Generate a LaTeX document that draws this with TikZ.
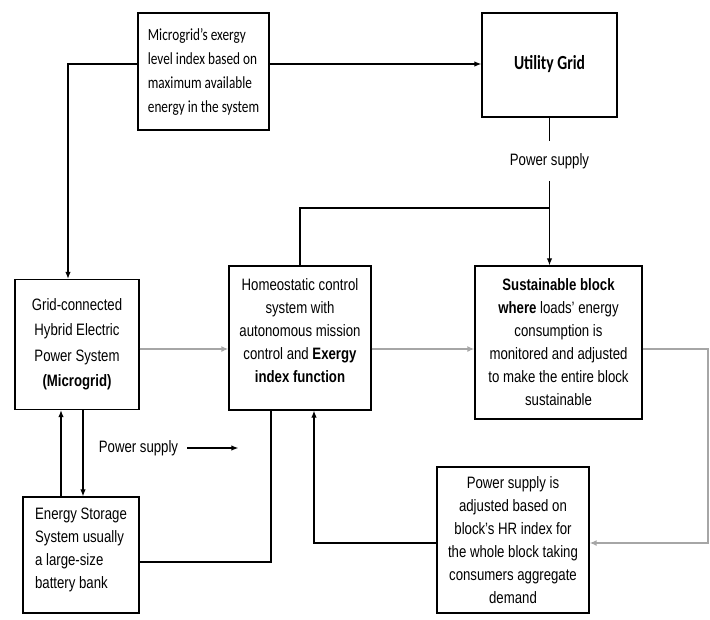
\documentclass[tikz,border=0pt]{standalone}
\usepackage{fontspec}
\setmainfont{Liberation Sans}[FakeStretch=0.8]
\newfontfamily\calibfont{Carlito}[FakeStretch=0.78]
\usetikzlibrary{arrows.meta,positioning}
\tikzset{
  box/.style={draw, line width=1.3pt, inner sep=0pt, align=center, font=\fontsize{16.5}{23}\selectfont},
  flow/.style={line width=1.2pt, -{Latex[length=7pt,width=5.5pt]}},
  wire/.style={line width=1.2pt},
  heavy flow/.style={line width=1.8pt, gray!70, -{Latex[length=7pt,width=6pt]}},
  tag/.style={inner sep=0pt, font=\fontsize{16.5}{18}\selectfont},
}

\begin{document}
\begin{tikzpicture}[x=1pt, y=-1pt]
  \useasboundingbox (0,0) rectangle (710,619);

  % Top row: exergy index and utility grid
  \node[box, minimum width=131pt, minimum height=117pt, align=left,
        font=\calibfont\fontsize{17}{24}\selectfont] (exergy) at (203.5,71.5)
        {Microgrid’s exergy\\level index based on\\maximum available\\energy in the system};
  \node[box, minimum width=135pt, minimum height=104pt,
        font=\calibfont\bfseries\fontsize{20}{22}\selectfont] (util) at (549.5,65) {\raisebox{6pt}{Utility Grid}};
  \node[tag, inner ysep=12pt] (supply) at (549.5,161) {Power supply};

  % Middle row
  \node[box, minimum width=124pt, minimum height=130pt, font=\fontsize{16.5}{25.5}\selectfont] (grid) at (77,344.5)
        {Grid-connected\\Hybrid Electric\\Power System\\\textbf{(Microgrid)}};
  \node[box, minimum width=142pt, minimum height=144pt] (homeo) at (300,338)
        {Homeostatic control\\system with\\autonomous mission\\control and \textbf{Exergy}\\\textbf{index function}\\[-9pt]\mbox{}};
  \node[box, minimum width=167pt, minimum height=153pt] (sust) at (558.5,342.5)
        {\textbf{Sustainable block}\\\textbf{where} loads\symbol{"27} energy\\consumption is\\monitored and adjusted\\to make the entire block\\sustainable};

  % Bottom row
  \node[box, minimum width=116pt, minimum height=116pt, align=left] (storage) at (81,555)
        {Energy Storage\\System usually\\a large-size\\battery bank\\[-9pt]\mbox{}};
  \node[box, minimum width=152pt, minimum height=146pt] (adjust) at (513,540)
        {Power supply is\\adjusted based on\\block’s HR index for\\the whole block taking\\consumers aggregate\\demand};
  \node[tag] (lowsupply) at (138.5,448) {Power supply};

  \coordinate (split) at (549.5,208);
  \coordinate (midrow) at (0,349);
  \coordinate (lowrow) at (0,543);
  \coordinate (rim) at (708,0);

  % Connectors
  \draw[flow] ([yshift=7.5pt]exergy.east) -- ([yshift=7.5pt]exergy.east -| util.west);
  \draw[flow] ([yshift=7.5pt]exergy.west) -| ([xshift=-9pt]grid.north);
  \draw[wire] (util.south) -- (supply.north);
  \draw[flow] (supply.south) -- (supply.south |- sust.north);
  \draw[wire] (split) -| (homeo.north);
  \draw[heavy flow] (grid.east |- midrow) -- (homeo.west |- midrow);
  \draw[heavy flow] (homeo.east |- midrow) -- (sust.west |- midrow);
  \draw[heavy flow] (sust.east |- midrow) -- (rim |- midrow) -- (rim |- lowrow) -- (adjust.east |- lowrow);
  \draw[flow] (adjust.west |- lowrow) -| ([xshift=14pt]homeo.south);
  \draw[wire] ([xshift=-29pt]homeo.south) |- ([yshift=-7pt]storage.east);
  \draw[flow] ([xshift=-20pt]storage.north) -- ([xshift=-20pt]storage.north |- grid.south);
  \draw[flow] ([xshift=2pt]storage.north |- grid.south) -- ([xshift=2pt]storage.north);
  \draw[flow] ([xshift=9pt]lowsupply.east) -- ++(51,0);

\end{tikzpicture}
\end{document}
